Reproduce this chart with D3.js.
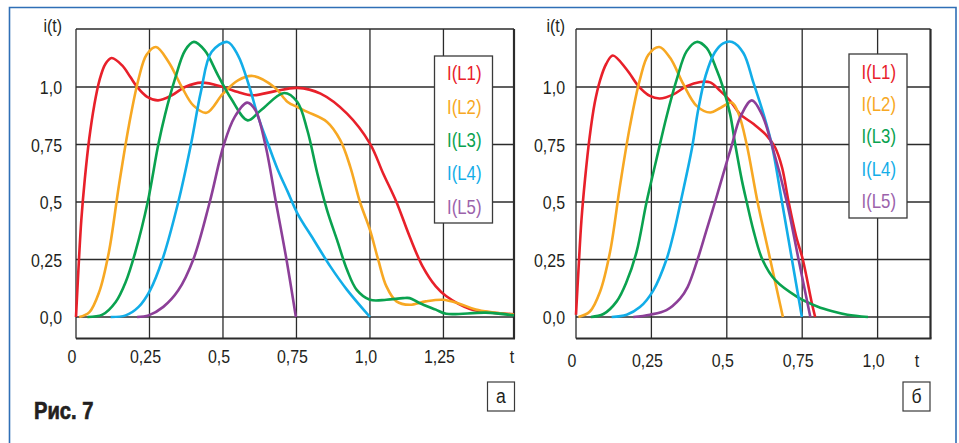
<!DOCTYPE html>
<html><head><meta charset="utf-8">
<script src="https://cdn.jsdelivr.net/npm/d3@7"></script>
<style>
html,body{margin:0;padding:0;background:#fff;}
svg{display:block;}
text{font-family:"Liberation Sans",Arial,sans-serif;fill:#231f20;}
</style></head><body>
<svg id="c" width="959" height="443"></svg>
<script>
// ---- data ----
const seriesNames = ["I(L1)","I(L2)","I(L3)","I(L4)","I(L5)"];
const seriesColors = ["#e8202a","#f7a823","#0aa24f","#12ade8","#8c3f98"];
const legendColors = ["#e8202a","#f7a823","#0aa24f","#12ade8","#9b62ab"];

const yTicks = [0,0.25,0.5,0.75,1.0];
const yLabels = ["0,0","0,25","0,5","0,75","1,0"];
const xTicksA = [0,0.25,0.5,0.75,1.0,1.25];
const xLabelsA = ["0","0,25","0,5","0,75","1,0","1,25"];
const xTicksB = [0,0.25,0.5,0.75,1.0];
const xLabelsB = ["0","0,25","0,5","0,75","1,0"];

// chart a
const aL1 = [[0,0],[0.008,0.2],[0.018,0.42],[0.03,0.6],[0.045,0.775],[0.062,0.92],[0.08,1.03],[0.1,1.1],[0.121,1.126],[0.157,1.094],[0.185,1.043],[0.208,1.0],[0.242,0.957],[0.279,0.942],[0.326,0.964],[0.371,1.0],[0.427,1.019],[0.5,1.0],[0.551,0.978],[0.601,0.964],[0.674,0.981],[0.753,0.996],[0.832,0.971],[0.922,0.884],[1.0,0.754],[1.045,0.624],[1.09,0.5],[1.135,0.35],[1.179,0.22],[1.224,0.133],[1.26,0.09],[1.338,0.036],[1.49,0.012]];
const aL2 = [[0.011,0],[0.045,0.02],[0.079,0.109],[0.112,0.283],[0.146,0.572],[0.18,0.833],[0.213,1.036],[0.24,1.14],[0.272,1.174],[0.315,1.109],[0.36,1.0],[0.399,0.92],[0.444,0.888],[0.5,0.971],[0.551,1.029],[0.601,1.048],[0.674,1.0],[0.72,0.935],[0.753,0.913],[0.787,0.892],[0.854,0.848],[0.899,0.769],[0.933,0.653],[0.966,0.5],[1.0,0.379],[1.028,0.249],[1.056,0.133],[1.09,0.068],[1.135,0.053],[1.19,0.068],[1.248,0.075],[1.304,0.058],[1.36,0.033],[1.49,0.01]];
const aL3 = [[0.039,0],[0.09,0.01],[0.135,0.065],[0.169,0.152],[0.202,0.283],[0.244,0.5],[0.28,0.75],[0.303,0.88],[0.337,1.036],[0.371,1.159],[0.401,1.196],[0.438,1.159],[0.483,1.051],[0.528,0.949],[0.584,0.855],[0.629,0.899],[0.708,0.974],[0.753,0.935],[0.787,0.812],[0.821,0.624],[0.854,0.465],[0.888,0.335],[0.922,0.205],[0.955,0.118],[1.0,0.075],[1.056,0.075],[1.112,0.082],[1.135,0.082],[1.168,0.061],[1.224,0.032],[1.259,0.014],[1.394,0.019],[1.49,0.007]];
const aL4 = [[0.118,0],[0.169,0.007],[0.213,0.044],[0.252,0.116],[0.294,0.25],[0.348,0.5],[0.391,0.75],[0.425,0.98],[0.461,1.152],[0.515,1.196],[0.551,1.138],[0.59,1.0],[0.618,0.877],[0.654,0.75],[0.685,0.645],[0.72,0.545],[0.753,0.451],[0.809,0.335],[0.865,0.22],[0.922,0.118],[1.0,0]];
const aL5 = [[0.208,0],[0.247,0.007],[0.297,0.044],[0.348,0.116],[0.399,0.25],[0.455,0.5],[0.503,0.75],[0.54,0.87],[0.582,0.932],[0.61,0.9],[0.644,0.75],[0.68,0.5],[0.716,0.25],[0.748,0]];

// chart b
const bL1 = [[0,0.01],[0.008,0.2],[0.018,0.42],[0.03,0.6],[0.045,0.78],[0.062,0.93],[0.08,1.03],[0.1,1.1],[0.122,1.137],[0.168,1.076],[0.207,1.004],[0.245,0.961],[0.278,0.95],[0.323,0.968],[0.367,1.004],[0.412,1.022],[0.445,1.02],[0.478,0.983],[0.511,0.94],[0.544,0.882],[0.589,0.839],[0.633,0.788],[0.66,0.738],[0.683,0.651],[0.705,0.5],[0.73,0.35],[0.752,0.25],[0.782,0.06],[0.793,0]];
const bL2 = [[0.008,0],[0.046,0.024],[0.08,0.111],[0.113,0.284],[0.146,0.572],[0.179,0.831],[0.212,1.033],[0.24,1.14],[0.276,1.174],[0.312,1.127],[0.356,1.012],[0.4,0.918],[0.445,0.889],[0.48,0.91],[0.517,0.932],[0.54,0.88],[0.566,0.75],[0.602,0.5],[0.644,0.25],[0.686,0]];
const bL3 = [[0.049,0],[0.091,0.013],[0.135,0.068],[0.168,0.154],[0.201,0.284],[0.234,0.5],[0.267,0.687],[0.301,0.875],[0.334,1.033],[0.367,1.156],[0.4,1.196],[0.433,1.17],[0.466,1.076],[0.487,1.0],[0.511,0.882],[0.528,0.75],[0.55,0.594],[0.566,0.5],[0.588,0.378],[0.618,0.25],[0.66,0.161],[0.732,0.089],[0.8,0.046],[0.85,0.025],[0.9,0.01],[0.968,0]];
const bL4 = [[0.118,0],[0.168,0.01],[0.212,0.043],[0.256,0.115],[0.3,0.25],[0.325,0.37],[0.347,0.5],[0.384,0.73],[0.405,0.9],[0.43,1.05],[0.46,1.15],[0.488,1.19],[0.518,1.196],[0.555,1.148],[0.588,1.02],[0.62,0.89],[0.649,0.75],[0.683,0.5],[0.716,0.25],[0.749,0]];
const bL5 = [[0.19,0],[0.245,0.01],[0.3,0.03],[0.345,0.08],[0.37,0.13],[0.403,0.25],[0.431,0.37],[0.461,0.5],[0.49,0.63],[0.515,0.74],[0.545,0.87],[0.583,0.942],[0.616,0.882],[0.649,0.75],[0.699,0.5],[0.738,0.25],[0.777,0]];

// ---- drawing ----
const svg = d3.select("#c");
const SX = 0.84; // horizontal condensation of the text face
function place(sel, fx, fy){
  return sel.attr("transform",(d,i)=>`translate(${fx(d,i)},${fy(d,i)}) scale(${SX},1)`);
}
// outer blue frame (no bottom edge)
svg.append("path").attr("d","M9.5,443 L9.5,7.5 L956,7.5 L956,443")
  .attr("fill","none").attr("stroke","#2f6fb6").attr("stroke-width",1.6);

function drawChart(cfg){
  const g = svg.append("g");
  const x = d3.scaleLinear().domain([0,cfg.tMax]).range([cfg.left,cfg.right]);
  const y = d3.scaleLinear().domain([0,1]).range([317,87]);
  const top = 29, bottom = 338.5;
  const gridColor = "#2b2b2b";
  g.selectAll("line.vx").data(cfg.xTicks).join("line")
    .attr("x1",d=>x(d)).attr("x2",d=>x(d)).attr("y1",top).attr("y2",bottom)
    .attr("stroke",gridColor).attr("stroke-width",1.3);
  g.selectAll("line.hy").data(yTicks).join("line")
    .attr("x1",cfg.left).attr("x2",cfg.right).attr("y1",d=>y(d)).attr("y2",d=>y(d))
    .attr("stroke",gridColor).attr("stroke-width",1.3);
  g.append("line").attr("x1",cfg.left).attr("x2",cfg.right).attr("y1",top).attr("y2",top).attr("stroke",gridColor).attr("stroke-width",1.3);
  g.append("line").attr("x1",cfg.left).attr("x2",cfg.right+1).attr("y1",bottom).attr("y2",bottom).attr("stroke",gridColor).attr("stroke-width",2.2);
  g.append("line").attr("x1",cfg.right).attr("x2",cfg.right).attr("y1",top).attr("y2",bottom).attr("stroke",gridColor).attr("stroke-width",2.2);

  // legend
  g.append("rect").attr("x",cfg.legX).attr("y",cfg.legY).attr("width",58).attr("height",cfg.legH)
    .attr("fill","#fff").attr("stroke","#3a3a3a").attr("stroke-width",1.3);
  place(g.selectAll("text.leg").data(seriesNames).join("text"),
        ()=>cfg.legX+12.5, (d,i)=>cfg.legY0+i*cfg.legStep+7)
    .attr("font-size",20).style("fill",(d,i)=>legendColors[i]).text(d=>d);

  // curves
  const line = d3.line().x(d=>x(d[0])).y(d=>y(d[1])).curve(d3.curveCatmullRom.alpha(0.5));
  g.selectAll("path.s").data(cfg.series).join("path")
    .attr("d",line).attr("fill","none")
    .attr("stroke",(d,i)=>seriesColors[i]).attr("stroke-width",2.6)
    .attr("stroke-linejoin","round").attr("stroke-linecap","butt");

  // y labels
  place(g.selectAll("text.yl").data(yTicks).join("text"), ()=>cfg.yLabX, d=>y(d)+7)
    .attr("text-anchor","end").attr("font-size",19).text((d,i)=>yLabels[i]);
  place(g.append("text"), ()=>cfg.yLabX, ()=>32)
    .attr("text-anchor","end").attr("font-size",19).text("i(t)");
  // x labels
  place(g.selectAll("text.xl").data(cfg.xTicks).join("text"), d=>x(d)-4, ()=>cfg.xLabY)
    .attr("text-anchor","middle").attr("font-size",19).text((d,i)=>cfg.xLabels[i]);
  place(g.append("text"), ()=>cfg.tX, ()=>cfg.xLabY)
    .attr("text-anchor","middle").attr("font-size",19).text("t");
  // panel letter box
  g.append("rect").attr("x",cfg.boxX).attr("y",382).attr("width",27).attr("height",29)
    .attr("fill","#fff").attr("stroke","#3a3a3a").attr("stroke-width",1.2);
  place(g.append("text"), ()=>cfg.boxX+13.5, ()=>403)
    .attr("text-anchor","middle").attr("font-size",21).text(cfg.letter);
}

drawChart({left:76,right:514,tMax:1.49,xTicks:xTicksA,xLabels:xLabelsA,series:[aL1,aL2,aL3,aL4,aL5],
  legX:434.5,legY:56,legH:167,legY0:73.3,legStep:33.3,yLabX:62,xLabY:363,tX:512,boxX:487.5,letter:"а"});
drawChart({left:576,right:930.5,tMax:1.1754,xTicks:xTicksB,xLabels:xLabelsB,series:[bL1,bL2,bL3,bL4,bL5],
  legX:849,legY:54,legH:164,legY0:71.7,legStep:32.3,yLabX:565,xLabY:367,tX:917,boxX:903,letter:"б"});

place(svg.append("text"), ()=>34, ()=>419).attr("font-size",24).attr("font-weight","bold")
  .attr("stroke","#231f20").attr("stroke-width",0.7).text("Рис. 7");
</script>
</body></html>
